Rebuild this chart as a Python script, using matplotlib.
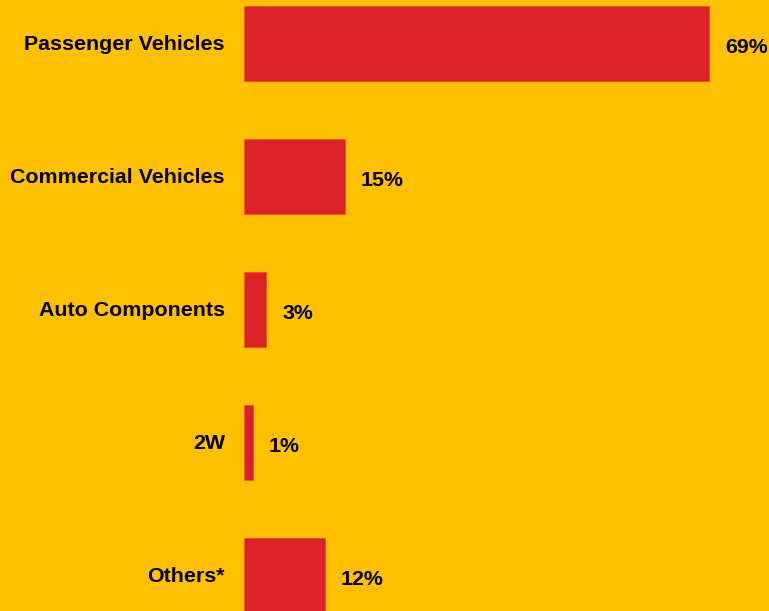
import matplotlib
matplotlib.use("Agg")
import matplotlib.pyplot as plt
from matplotlib.transforms import offset_copy

categories = ["Passenger Vehicles", "Commercial Vehicles", "Auto Components", "2W", "Others*"]
values = [69, 15, 3.3, 1.3, 12]
value_labels = ["69%", "15%", "3%", "1%", "12%"]

BG = "#FFC000"
BAR = "#DC2229"

W, H, DPI = 769, 611, 100
fig = plt.figure(figsize=(W / DPI, H / DPI), dpi=DPI, facecolor=BG)
ax_left = 244 / W
ax = fig.add_axes([ax_left, 0, 1 - ax_left, 1])
ax.set_facecolor(BG)

px_per_unit = 465 / 69
ax.set_xlim(0, (W - 244) / px_per_unit)
spacing = 133
top = -43.5 / spacing
bottom = (H - 43.5) / spacing
ax.set_ylim(bottom, top)

ypos = list(range(len(categories)))
ax.barh(ypos, values, height=75 / spacing, color=BAR, edgecolor="#E8502A", linewidth=0.6)

font = dict(family=["Liberation Sans", "DejaVu Sans"], fontweight="bold", fontsize=15.4, color="black")

for y, v, lab, cat in zip(ypos, values, value_labels, categories):
    t = offset_copy(ax.transData, fig=fig, x=16, y=-4, units="dots")
    ax.text(v, y, lab, transform=t, ha="left", va="center", clip_on=False, **font)
    t2 = offset_copy(ax.transData, fig=fig, x=-19, y=-1, units="dots")
    ax.text(0, y, cat, transform=t2, ha="right", va="center", clip_on=False, **font)

for s in ax.spines.values():
    s.set_visible(False)
ax.set_xticks([])
ax.set_yticks([])

fig.savefig("out.png", dpi=DPI, facecolor=BG)
